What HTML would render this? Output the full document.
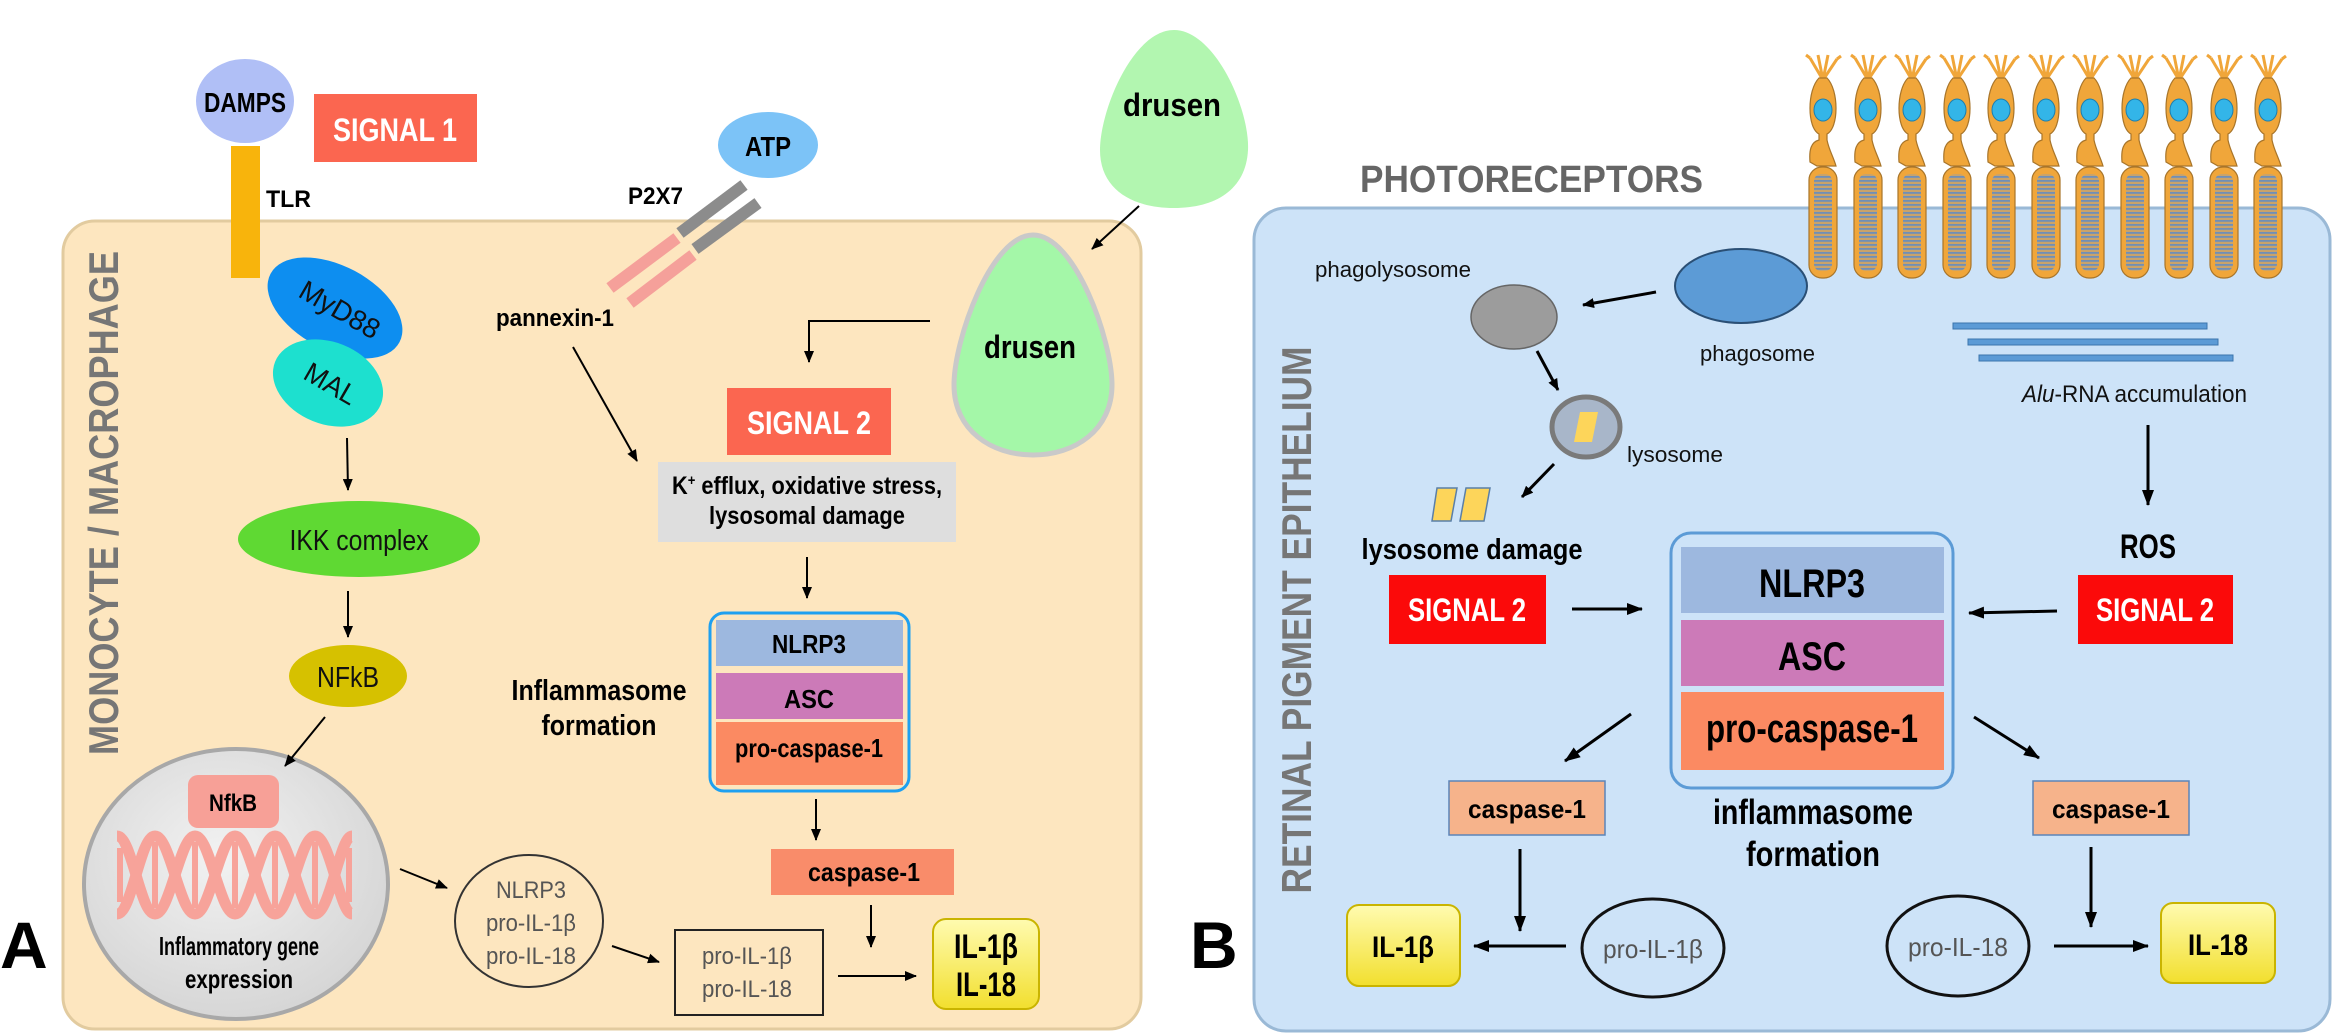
<!DOCTYPE html>
<html><head><meta charset="utf-8"><style>
html,body{margin:0;padding:0;background:#fff;}
svg{display:block;font-family:"Liberation Sans",Arial,sans-serif;}
</style></head><body>
<svg width="2333" height="1034" viewBox="0 0 2333 1034" xmlns="http://www.w3.org/2000/svg">
<defs>
<marker id="ah" markerWidth="12" markerHeight="10" refX="11" refY="5" orient="auto" markerUnits="userSpaceOnUse"><path d="M0,0 L12,5 L0,10 Z" fill="#000"/></marker>
<marker id="ahb" markerWidth="16" markerHeight="12" refX="15" refY="6" orient="auto" markerUnits="userSpaceOnUse"><path d="M0,0 L16,6 L0,12 Z" fill="#000"/></marker>
<radialGradient id="nuc" cx="0.45" cy="0.4" r="0.6"><stop offset="0" stop-color="#f2f2f2"/><stop offset="1" stop-color="#d6d6d6"/></radialGradient>
<linearGradient id="yel" x1="0" y1="0" x2="0" y2="1"><stop offset="0" stop-color="#fffbb0"/><stop offset="1" stop-color="#f2df2e"/></linearGradient>
<pattern id="stripe" width="6" height="4" patternUnits="userSpaceOnUse"><rect width="6" height="4" fill="#c9a36a"/><rect y="0" width="6" height="1.8" fill="#6f8fb8"/></pattern>
<g id="pr">
 <path d="M0,80 L-13,58 M0,80 L-5,55 M0,80 L5,55 M0,80 L14,59 M-13,58 L-17,55 M14,59 L18,56" stroke="#f0a63a" stroke-width="3" fill="none"/>
 <path d="M-4,78 C-16,90 -16,128 -4,134 L-4,140 C-12,142 -14,150 -13,162 L-6,166 L13,166 C10,156 6,150 4,140 L4,134 C16,128 16,90 4,78 Z" fill="#f0a63a" stroke="#a8752a" stroke-width="1.2"/>
 <ellipse cx="0" cy="110" rx="9" ry="11" fill="#33b5e8" stroke="#1c7fb0" stroke-width="1"/>
 <rect x="-14" y="167" width="28" height="111" rx="13" fill="#f0a63a" stroke="#a8752a" stroke-width="1.2"/>
 <rect x="-9" y="174" width="18" height="97" rx="7" fill="url(#stripe)"/>
</g>
</defs>

<!-- ================= PANEL A ================= -->
<rect x="63" y="221" width="1078" height="808" rx="32" fill="#fde6bf" stroke="#e2cb9f" stroke-width="3"/>
<text transform="translate(118,503) rotate(-90)" text-anchor="middle" font-size="42" font-weight="bold" fill="#767676" textLength="504" lengthAdjust="spacingAndGlyphs">MONOCYTE / MACROPHAGE</text>
<text x="0" y="968" font-size="66" font-weight="bold" fill="#000">A</text>

<path d="M1174,30 C1215,30 1250,110 1248,150 C1246,190 1215,208 1174,208 C1133,208 1100,190 1100,150 C1100,110 1133,30 1174,30 Z" fill="#b2f6b0"/>
<text x="1172" y="116" text-anchor="middle" font-size="32" font-weight="bold" textLength="98" lengthAdjust="spacingAndGlyphs">drusen</text>
<line x1="1139" y1="206" x2="1092" y2="249" stroke="#000" stroke-width="2" marker-end="url(#ah)"/>

<ellipse cx="245" cy="101" rx="49" ry="42" fill="#b0bff6"/>
<text x="245" y="112" text-anchor="middle" font-size="28" font-weight="bold" textLength="82" lengthAdjust="spacingAndGlyphs">DAMPS</text>
<rect x="314" y="94" width="163" height="68" fill="#fb6650"/>
<text x="395" y="141" text-anchor="middle" font-size="32" font-weight="bold" fill="#fff" textLength="124" lengthAdjust="spacingAndGlyphs">SIGNAL 1</text>
<rect x="231" y="146" width="29" height="132" fill="#f8b40c"/>
<text x="266" y="207" font-size="24" font-weight="bold" textLength="45" lengthAdjust="spacingAndGlyphs">TLR</text>

<ellipse cx="335" cy="308" rx="73" ry="42" transform="rotate(28 335 308)" fill="#0d8ef0"/>
<text transform="translate(335,318) rotate(30)" text-anchor="middle" font-size="28" fill="#111" textLength="88" lengthAdjust="spacingAndGlyphs">MyD88</text>
<ellipse cx="328" cy="383" rx="57" ry="41" transform="rotate(22 328 383)" fill="#1de0cf"/>
<text transform="translate(326,392) rotate(30)" text-anchor="middle" font-size="28" fill="#111" textLength="56" lengthAdjust="spacingAndGlyphs">MAL</text>

<line x1="347" y1="438" x2="348" y2="490" stroke="#000" stroke-width="2" marker-end="url(#ah)"/>
<ellipse cx="359" cy="539" rx="121" ry="38" fill="#5fd933"/>
<text x="359" y="550" text-anchor="middle" font-size="29" fill="#111" textLength="139" lengthAdjust="spacingAndGlyphs">IKK complex</text>
<line x1="348" y1="591" x2="348" y2="637" stroke="#000" stroke-width="2" marker-end="url(#ah)"/>
<ellipse cx="348" cy="676" rx="59" ry="31" fill="#d6c100"/>
<text x="348" y="687" text-anchor="middle" font-size="29" fill="#111" textLength="62" lengthAdjust="spacingAndGlyphs">NFkB</text>

<ellipse cx="236" cy="884" rx="152" ry="135" fill="url(#nuc)" stroke="#a8a8a8" stroke-width="4"/>
<line x1="325" y1="717" x2="285" y2="766" stroke="#000" stroke-width="2" marker-end="url(#ah)"/>
<rect x="188" y="775" width="91" height="53" rx="10" fill="#f7a097"/>
<text x="233" y="811" text-anchor="middle" font-size="24" font-weight="bold" textLength="48" lengthAdjust="spacingAndGlyphs">NfkB</text>
<g stroke="#f7a39a" fill="none">
<path stroke-width="11" d="M117,836 C132,836 140,914 155,914 S180,836 195,836 S220,914 235,914 S260,836 275,836 S300,914 315,914 S340,836 352,836"/>
<path stroke-width="11" d="M117,914 C132,914 140,836 155,836 S180,914 195,914 S220,836 235,836 S260,914 275,914 S300,836 315,836 S340,914 352,914"/>
<path stroke-width="6" d="M120,848 V902 M155,842 V908 M195,842 V908 M235,842 V908 M275,842 V908 M315,842 V908 M349,848 V902"/>
</g>
<text x="239" y="955" text-anchor="middle" font-size="26" font-weight="bold" textLength="160" lengthAdjust="spacingAndGlyphs">Inflammatory gene</text>
<text x="239" y="988" text-anchor="middle" font-size="26" font-weight="bold" textLength="108" lengthAdjust="spacingAndGlyphs">expression</text>
<line x1="400" y1="869" x2="447" y2="888" stroke="#000" stroke-width="2" marker-end="url(#ah)"/>

<ellipse cx="529" cy="921" rx="74" ry="66" fill="none" stroke="#333" stroke-width="2"/>
<g font-size="24" fill="#555" text-anchor="middle">
<text x="531" y="898" textLength="70" lengthAdjust="spacingAndGlyphs">NLRP3</text>
<text x="531" y="931" textLength="90" lengthAdjust="spacingAndGlyphs">pro-IL-1β</text>
<text x="531" y="964" textLength="90" lengthAdjust="spacingAndGlyphs">pro-IL-18</text>
</g>
<line x1="612" y1="946" x2="659" y2="962" stroke="#000" stroke-width="2" marker-end="url(#ah)"/>
<rect x="675" y="930" width="148" height="85" fill="none" stroke="#222" stroke-width="2"/>
<g font-size="24" fill="#555" text-anchor="middle">
<text x="747" y="964" textLength="90" lengthAdjust="spacingAndGlyphs">pro-IL-1β</text>
<text x="747" y="997" textLength="90" lengthAdjust="spacingAndGlyphs">pro-IL-18</text>
</g>
<line x1="838" y1="976" x2="916" y2="976" stroke="#000" stroke-width="2" marker-end="url(#ah)"/>
<rect x="933" y="919" width="106" height="90" rx="13" fill="url(#yel)" stroke="#c9b400" stroke-width="2"/>
<text x="986" y="958" text-anchor="middle" font-size="34" font-weight="bold" textLength="64" lengthAdjust="spacingAndGlyphs">IL-1β</text>
<text x="986" y="996" text-anchor="middle" font-size="34" font-weight="bold" textLength="60" lengthAdjust="spacingAndGlyphs">IL-18</text>

<rect x="771" y="849" width="183" height="46" fill="#f98c6a"/>
<text x="864" y="881" text-anchor="middle" font-size="26" font-weight="bold" textLength="112" lengthAdjust="spacingAndGlyphs">caspase-1</text>
<line x1="871" y1="905" x2="871" y2="947" stroke="#000" stroke-width="2" marker-end="url(#ah)"/>
<line x1="816" y1="799" x2="816" y2="840" stroke="#000" stroke-width="2" marker-end="url(#ah)"/>

<rect x="710" y="613" width="199" height="178" rx="14" fill="#fde6bf" stroke="#1fa0f0" stroke-width="3"/>
<rect x="716" y="620" width="187" height="46" fill="#9db8df"/>
<rect x="716" y="673" width="187" height="46" fill="#cc7ab8"/>
<rect x="716" y="722" width="187" height="63" fill="#fb8a62"/>
<text x="809" y="653" text-anchor="middle" font-size="26" font-weight="bold" textLength="74" lengthAdjust="spacingAndGlyphs">NLRP3</text>
<text x="809" y="708" text-anchor="middle" font-size="26" font-weight="bold" textLength="50" lengthAdjust="spacingAndGlyphs">ASC</text>
<text x="809" y="757" text-anchor="middle" font-size="26" font-weight="bold" textLength="148" lengthAdjust="spacingAndGlyphs">pro-caspase-1</text>
<text x="599" y="700" text-anchor="middle" font-size="29" font-weight="bold" textLength="175" lengthAdjust="spacingAndGlyphs">Inflammasome</text>
<text x="599" y="735" text-anchor="middle" font-size="29" font-weight="bold" textLength="115" lengthAdjust="spacingAndGlyphs">formation</text>

<line x1="807" y1="557" x2="807" y2="598" stroke="#000" stroke-width="2" marker-end="url(#ah)"/>
<rect x="658" y="462" width="298" height="80" fill="#dedede"/>
<text x="807" y="494" text-anchor="middle" font-size="25" font-weight="bold" textLength="270" lengthAdjust="spacingAndGlyphs">K<tspan font-size="15" dy="-9">+</tspan><tspan dy="9"> efflux, oxidative stress,</tspan></text>
<text x="807" y="524" text-anchor="middle" font-size="25" font-weight="bold" textLength="196" lengthAdjust="spacingAndGlyphs">lysosomal damage</text>
<rect x="727" y="388" width="164" height="67" fill="#fb6650"/>
<text x="809" y="434" text-anchor="middle" font-size="32" font-weight="bold" fill="#fff" textLength="124" lengthAdjust="spacingAndGlyphs">SIGNAL 2</text>
<polyline points="930,321 809,321 809,362" fill="none" stroke="#000" stroke-width="2" marker-end="url(#ah)"/>
<line x1="573" y1="347" x2="637" y2="461" stroke="#000" stroke-width="2" marker-end="url(#ah)"/>
<text x="496" y="326" font-size="24" font-weight="bold" textLength="118" lengthAdjust="spacingAndGlyphs">pannexin-1</text>
<text x="628" y="204" font-size="24" font-weight="bold" textLength="55" lengthAdjust="spacingAndGlyphs">P2X7</text>
<ellipse cx="768" cy="145" rx="50" ry="33" fill="#7cc3f7"/>
<text x="768" y="156" text-anchor="middle" font-size="28" font-weight="bold" textLength="46" lengthAdjust="spacingAndGlyphs">ATP</text>
<g stroke-width="12" stroke-linecap="butt">
<line x1="744" y1="185" x2="680" y2="233" stroke="#8c8c8c"/>
<line x1="677" y1="238" x2="610" y2="288" stroke="#f5a09a"/>
<line x1="758" y1="203" x2="695" y2="249" stroke="#8c8c8c"/>
<line x1="693" y1="255" x2="630" y2="303" stroke="#f5a09a"/>
</g>
<path d="M1033,235 C1075,235 1112,340 1112,385 C1112,430 1075,455 1033,455 C991,455 954,430 954,385 C954,340 991,235 1033,235 Z" fill="#a4f7a8" stroke="#c9c9c9" stroke-width="5"/>
<text x="1030" y="358" text-anchor="middle" font-size="32" font-weight="bold" textLength="92" lengthAdjust="spacingAndGlyphs">drusen</text>

<!-- ================= PANEL B ================= -->
<rect x="1254" y="208" width="1076" height="823" rx="32" fill="#cde3f8" stroke="#9ab9d6" stroke-width="3"/>
<text x="1360" y="192" font-size="38" font-weight="bold" fill="#666" textLength="343" lengthAdjust="spacingAndGlyphs">PHOTORECEPTORS</text>
<text x="1190" y="968" font-size="66" font-weight="bold" fill="#000">B</text>
<text transform="translate(1311,620) rotate(-90)" text-anchor="middle" font-size="42" font-weight="bold" fill="#767676" textLength="547" lengthAdjust="spacingAndGlyphs">RETINAL PIGMENT EPITHELIUM</text>

<use href="#pr" x="1823"/><use href="#pr" x="1868"/><use href="#pr" x="1912"/><use href="#pr" x="1957"/><use href="#pr" x="2001"/><use href="#pr" x="2046"/><use href="#pr" x="2090"/><use href="#pr" x="2135"/><use href="#pr" x="2179"/><use href="#pr" x="2224"/><use href="#pr" x="2268"/>

<text x="1315" y="277" font-size="22" fill="#111" textLength="156" lengthAdjust="spacingAndGlyphs">phagolysosome</text>
<ellipse cx="1514" cy="317" rx="43" ry="32" fill="#9c9c9c" stroke="#666" stroke-width="1.5"/>
<line x1="1656" y1="292" x2="1583" y2="305" stroke="#000" stroke-width="3" marker-end="url(#ah)"/>
<ellipse cx="1741" cy="286" rx="66" ry="37" fill="#5c9bd6" stroke="#2a4f75" stroke-width="2"/>
<text x="1700" y="361" font-size="22" fill="#111" textLength="115" lengthAdjust="spacingAndGlyphs">phagosome</text>
<line x1="1537" y1="351" x2="1558" y2="390" stroke="#000" stroke-width="3" marker-end="url(#ah)"/>
<ellipse cx="1586" cy="427" rx="34" ry="30" fill="#a8b6c9" stroke="#7a7a7a" stroke-width="5"/>
<path d="M1580,412 L1598,412 L1592,442 L1574,442 Z" fill="#fdd55a"/>
<text x="1627" y="462" font-size="22" fill="#111" textLength="96" lengthAdjust="spacingAndGlyphs">lysosome</text>
<line x1="1554" y1="464" x2="1522" y2="497" stroke="#000" stroke-width="3" marker-end="url(#ah)"/>
<path d="M1437,488 L1457,488 L1451,521 L1432,521 Z M1466,488 L1490,488 L1484,521 L1460,521 Z" fill="#fdd55a" stroke="#5a7fa8" stroke-width="1.5"/>
<text x="1472" y="559" text-anchor="middle" font-size="29" font-weight="bold" textLength="221" lengthAdjust="spacingAndGlyphs">lysosome damage</text>
<rect x="1389" y="575" width="157" height="69" fill="#fb0a0a"/>
<text x="1467" y="621" text-anchor="middle" font-size="32" font-weight="bold" fill="#fff" textLength="118" lengthAdjust="spacingAndGlyphs">SIGNAL 2</text>
<line x1="1572" y1="609" x2="1642" y2="609" stroke="#000" stroke-width="3" marker-end="url(#ahb)"/>

<rect x="1671" y="533" width="282" height="255" rx="20" fill="#cde3f8" stroke="#5c9bd6" stroke-width="3"/>
<rect x="1681" y="547" width="263" height="66" fill="#9db8df"/>
<rect x="1681" y="620" width="263" height="66" fill="#cc7ab8"/>
<rect x="1681" y="692" width="263" height="78" fill="#fb8a62"/>
<text x="1812" y="597" text-anchor="middle" font-size="40" font-weight="bold" textLength="106" lengthAdjust="spacingAndGlyphs">NLRP3</text>
<text x="1812" y="670" text-anchor="middle" font-size="40" font-weight="bold" textLength="68" lengthAdjust="spacingAndGlyphs">ASC</text>
<text x="1812" y="742" text-anchor="middle" font-size="40" font-weight="bold" textLength="212" lengthAdjust="spacingAndGlyphs">pro-caspase-1</text>
<text x="1813" y="824" text-anchor="middle" font-size="35" font-weight="bold" textLength="200" lengthAdjust="spacingAndGlyphs">inflammasome</text>
<text x="1813" y="866" text-anchor="middle" font-size="35" font-weight="bold" textLength="134" lengthAdjust="spacingAndGlyphs">formation</text>

<rect x="1953" y="323" width="254" height="6" fill="#5c9bd6" stroke="#3b74ad" stroke-width="1"/>
<rect x="1968" y="339" width="250" height="6" fill="#5c9bd6" stroke="#3b74ad" stroke-width="1"/>
<rect x="1979" y="355" width="254" height="6" fill="#5c9bd6" stroke="#3b74ad" stroke-width="1"/>
<text x="2022" y="402" font-size="24" fill="#111" textLength="225" lengthAdjust="spacingAndGlyphs"><tspan font-style="italic">Alu</tspan>-RNA accumulation</text>
<line x1="2148" y1="425" x2="2148" y2="505" stroke="#000" stroke-width="3" marker-end="url(#ahb)"/>
<text x="2148" y="558" text-anchor="middle" font-size="34" font-weight="bold" textLength="56" lengthAdjust="spacingAndGlyphs">ROS</text>
<rect x="2078" y="575" width="155" height="69" fill="#fb0a0a"/>
<text x="2155" y="621" text-anchor="middle" font-size="32" font-weight="bold" fill="#fff" textLength="118" lengthAdjust="spacingAndGlyphs">SIGNAL 2</text>
<line x1="2057" y1="611" x2="1969" y2="613" stroke="#000" stroke-width="3" marker-end="url(#ahb)"/>

<line x1="1631" y1="714" x2="1565" y2="761" stroke="#000" stroke-width="3" marker-end="url(#ahb)"/>
<line x1="1974" y1="717" x2="2039" y2="758" stroke="#000" stroke-width="3" marker-end="url(#ahb)"/>
<rect x="1449" y="781" width="156" height="54" fill="#f6b38b" stroke="#5c84b8" stroke-width="1.5"/>
<text x="1527" y="818" text-anchor="middle" font-size="26" font-weight="bold" textLength="118" lengthAdjust="spacingAndGlyphs">caspase-1</text>
<rect x="2033" y="781" width="156" height="54" fill="#f6b38b" stroke="#5c84b8" stroke-width="1.5"/>
<text x="2111" y="818" text-anchor="middle" font-size="26" font-weight="bold" textLength="118" lengthAdjust="spacingAndGlyphs">caspase-1</text>
<line x1="1520" y1="849" x2="1520" y2="931" stroke="#000" stroke-width="3" marker-end="url(#ahb)"/>
<line x1="2091" y1="847" x2="2091" y2="927" stroke="#000" stroke-width="3" marker-end="url(#ahb)"/>

<rect x="1347" y="905" width="113" height="81" rx="12" fill="url(#yel)" stroke="#c9b400" stroke-width="2"/>
<text x="1403" y="957" text-anchor="middle" font-size="30" font-weight="bold" textLength="62" lengthAdjust="spacingAndGlyphs">IL-1β</text>
<line x1="1566" y1="946" x2="1474" y2="946" stroke="#000" stroke-width="3" marker-end="url(#ahb)"/>
<ellipse cx="1653" cy="948" rx="71" ry="49" fill="none" stroke="#111" stroke-width="3"/>
<text x="1653" y="958" text-anchor="middle" font-size="26" fill="#555" textLength="100" lengthAdjust="spacingAndGlyphs">pro-IL-1β</text>
<ellipse cx="1958" cy="946" rx="71" ry="50" fill="none" stroke="#111" stroke-width="3"/>
<text x="1958" y="956" text-anchor="middle" font-size="26" fill="#555" textLength="100" lengthAdjust="spacingAndGlyphs">pro-IL-18</text>
<line x1="2054" y1="946" x2="2148" y2="946" stroke="#000" stroke-width="3" marker-end="url(#ahb)"/>
<rect x="2161" y="903" width="114" height="80" rx="12" fill="url(#yel)" stroke="#c9b400" stroke-width="2"/>
<text x="2218" y="955" text-anchor="middle" font-size="30" font-weight="bold" textLength="60" lengthAdjust="spacingAndGlyphs">IL-18</text>
</svg>
</body></html>
